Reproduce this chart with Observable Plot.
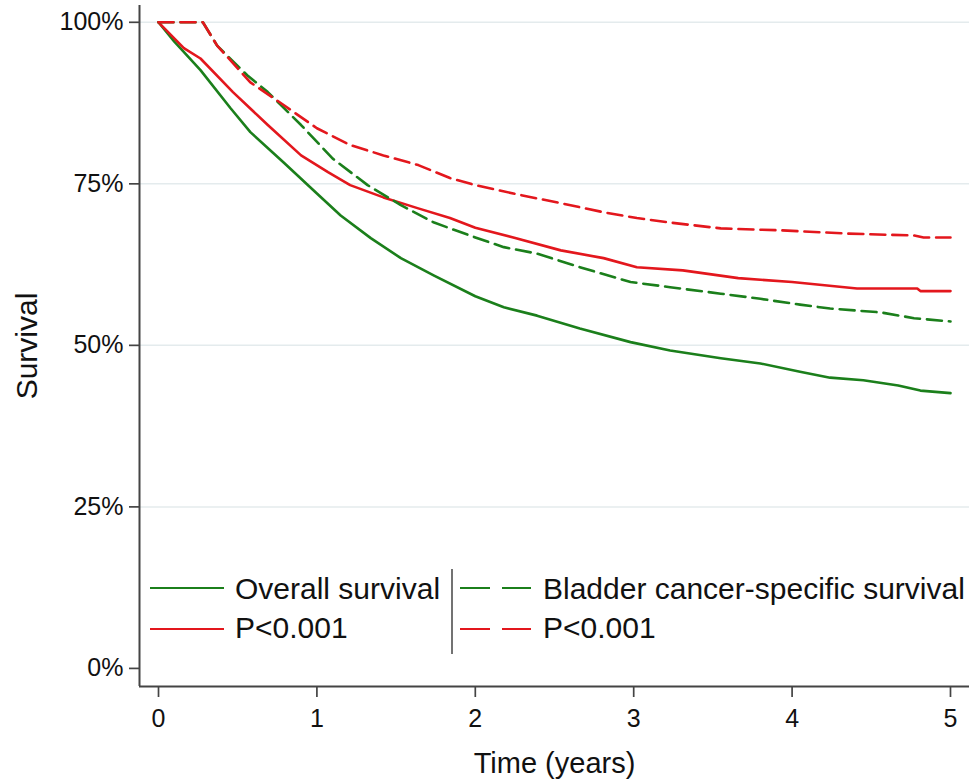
<!DOCTYPE html>
<html><head><meta charset="utf-8">
<script src="https://cdn.jsdelivr.net/npm/d3@7"></script>
<script src="https://cdn.jsdelivr.net/npm/@observablehq/plot@0.6"></script>
<style>
html,body{margin:0;padding:0;background:#fff;}
#chart{width:980px;height:782px;}
svg{font-family:"Liberation Sans",Arial,Helvetica,sans-serif;}
</style></head><body><div id="chart"></div>
<script>
// Overall survival, group 1 (green solid)
const osGreenTime = [0, 0.1, 0.265, 0.455, 0.58, 0.79, 1.0, 1.15, 1.34, 1.53, 1.74, 2.0, 2.18, 2.39, 2.66, 2.98, 3.23, 3.55, 3.80, 4.05, 4.24, 4.45, 4.67, 4.81, 5.0];
const osGreenSurv = [1.0, 0.97, 0.926, 0.867, 0.830, 0.783, 0.735, 0.701, 0.666, 0.635, 0.608, 0.576, 0.559, 0.546, 0.526, 0.505, 0.492, 0.480, 0.472, 0.459, 0.450, 0.446, 0.438, 0.430, 0.426];
// Overall survival, group 2 (red solid)
const osRedTime = [0, 0.16, 0.265, 0.47, 0.69, 0.90, 1.07, 1.21, 1.42, 1.64, 1.84, 2.0, 2.24, 2.54, 2.81, 3.02, 3.31, 3.66, 4.0, 4.41, 4.79, 4.81, 5.0];
const osRedSurv = [1.0, 0.960, 0.944, 0.892, 0.841, 0.794, 0.768, 0.748, 0.729, 0.712, 0.697, 0.682, 0.667, 0.647, 0.635, 0.621, 0.616, 0.604, 0.598, 0.588, 0.588, 0.584, 0.584];
// Bladder cancer-specific survival, group 1 (green dashed)
const cssGreenTime = [0, 0.28, 0.37, 0.56, 0.69, 0.90, 1.10, 1.32, 1.53, 1.74, 2.0, 2.18, 2.39, 2.66, 2.98, 3.23, 3.55, 3.80, 4.05, 4.24, 4.56, 4.77, 5.0];
const cssGreenSurv = [1.0, 1.0, 0.964, 0.918, 0.892, 0.841, 0.789, 0.748, 0.717, 0.690, 0.667, 0.652, 0.642, 0.621, 0.598, 0.590, 0.580, 0.572, 0.563, 0.557, 0.551, 0.542, 0.537];
// Bladder cancer-specific survival, group 2 (red dashed)
const cssRedTime = [0, 0.28, 0.37, 0.58, 0.79, 1.0, 1.21, 1.42, 1.64, 1.84, 2.0, 2.24, 2.54, 2.81, 3.02, 3.23, 3.55, 3.93, 4.35, 4.77, 4.83, 5.0];
const cssRedSurv = [1.0, 1.0, 0.964, 0.907, 0.872, 0.836, 0.810, 0.794, 0.779, 0.759, 0.748, 0.735, 0.720, 0.706, 0.697, 0.690, 0.681, 0.678, 0.673, 0.670, 0.667, 0.667];

const xTicks = [0, 1, 2, 3, 4, 5];
const yTicks = [0, 0.25, 0.5, 0.75, 1];
const yGrid = [0.25, 0.5, 0.75, 1];
const legendLeft = ["Overall survival", "P<0.001"];
const legendRight = ["Bladder cancer-specific survival", "P<0.001"];
const xTitle = "Time (years)";
const yTitle = "Survival";

const GREEN = "#1b7f1b";
const RED = "#e3171d";
const AXIS = "#444";
const DASH = "15,7";

const toRows = (T, S) => T.map((t, i) => ({t, s: S[i]}));
const series = [
  {rows: toRows(osGreenTime, osGreenSurv), color: GREEN, dash: null},
  {rows: toRows(osRedTime, osRedSurv), color: RED, dash: null},
  {rows: toRows(cssGreenTime, cssGreenSurv), color: GREEN, dash: DASH},
  {rows: toRows(cssRedTime, cssRedSurv), color: RED, dash: DASH}
];

const xMin = -0.12, xMax = 5.12, yMin = -0.028, yMax = 1.026;

const plot = Plot.plot({
  width: 980, height: 782,
  marginLeft: 139, marginRight: 11, marginTop: 5, marginBottom: 96,
  x: {domain: [xMin, xMax]},
  y: {domain: [yMin, yMax]},
  style: {fontFamily: '"Liberation Sans", Arial, sans-serif', background: "#fff", color: "#111"},
  marks: [
    Plot.ruleY(yGrid, {stroke: "#e4ebed", strokeWidth: 1.5}),
    Plot.axisX({ticks: xTicks, tickSize: 11, tickPadding: 12, fontSize: 25, label: null, stroke: AXIS, strokeWidth: 1.7, fill: "#111", tickFormat: d => String(d)}),
    Plot.axisY({ticks: yTicks, tickSize: 10, tickPadding: 6, fontSize: 25, label: null, stroke: AXIS, strokeWidth: 1.7, fill: "#111", tickFormat: d => Math.round(d * 100) + "%"}),
    ...series.map(s => Plot.line(s.rows, {x: "t", y: "s", stroke: s.color, strokeWidth: 2.6, strokeDasharray: s.dash, strokeLinejoin: "round"})),
    Plot.ruleX([xMin], {stroke: AXIS, strokeWidth: 2}),
    Plot.ruleY([yMin], {stroke: AXIS, strokeWidth: 2}),
    Plot.text([xTitle], {text: d => d, frameAnchor: "bottom", textAnchor: "middle", lineAnchor: "bottom", dy: 86, fontSize: 29, fill: "#111"}),
    Plot.text([yTitle], {text: d => d, frameAnchor: "left", textAnchor: "middle", lineAnchor: "middle", rotate: -90, dx: -112, fontSize: 30, fill: "#111"})
  ]
});
document.getElementById("chart").appendChild(plot);

// Legend (inside the plot area)
const svg = d3.select(plot);
const lg = svg.append("g").attr("class", "legend").attr("text-anchor", "start");
const rowY = [588, 629];
const rowBase = [599, 638];
const leftColors = [GREEN, RED];
legendLeft.forEach((lab, i) => {
  lg.append("line").attr("x1", 150).attr("x2", 224).attr("y1", rowY[i]).attr("y2", rowY[i])
    .attr("stroke", leftColors[i]).attr("stroke-width", 2);
  lg.append("text").attr("x", 235).attr("y", rowBase[i]).attr("font-size", 30).attr("fill", "#111")
    .attr("text-anchor", "start").text(lab);
});
lg.append("line").attr("x1", 452).attr("x2", 452).attr("y1", 569).attr("y2", 654)
  .attr("stroke", AXIS).attr("stroke-width", 1.5);
legendRight.forEach((lab, i) => {
  lg.append("line").attr("x1", 460).attr("x2", 531).attr("y1", rowY[i]).attr("y2", rowY[i])
    .attr("stroke", leftColors[i]).attr("stroke-width", 2).attr("stroke-dasharray", "30,12");
  lg.append("text").attr("x", 543).attr("y", rowBase[i]).attr("font-size", 30).attr("fill", "#111")
    .attr("text-anchor", "start").text(lab);
});
</script>
</body></html>
